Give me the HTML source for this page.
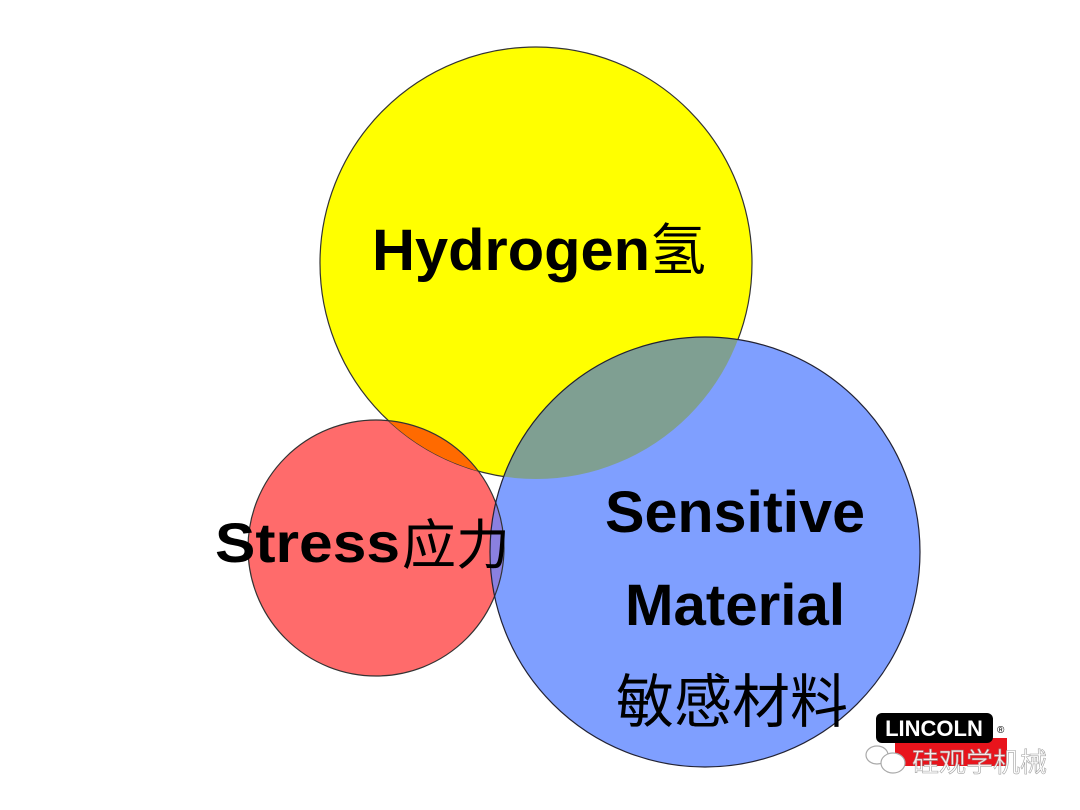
<!DOCTYPE html>
<html><head><meta charset="utf-8"><style>
html,body{margin:0;padding:0;background:#fff;width:1080px;height:810px;overflow:hidden}
svg{display:block}
</style></head><body>
<svg width="1080" height="810" viewBox="0 0 1080 810" xmlns="http://www.w3.org/2000/svg">
<defs>
<clipPath id="cy"><circle cx="536" cy="263" r="216"/></clipPath>
<clipPath id="cr"><circle cx="376" cy="548" r="128"/></clipPath>
</defs>
<circle cx="536" cy="263" r="216" fill="#ffff00"/>
<circle cx="376" cy="548" r="128" fill="#ff6b6b"/>
<circle cx="536" cy="263" r="216" fill="none" stroke="#333" stroke-width="1.2"/>
<g clip-path="url(#cy)"><circle cx="376" cy="548" r="128" fill="#ff6a00"/></g>
<circle cx="705" cy="552" r="215" fill="#7f9fff"/>
<g clip-path="url(#cy)"><circle cx="705" cy="552" r="215" fill="#7f9f92"/></g>
<g clip-path="url(#cr)"><circle cx="705" cy="552" r="215" fill="#8a80e0"/></g>
<circle cx="376" cy="548" r="128" fill="none" stroke="#333" stroke-width="1.2"/>
<circle cx="705" cy="552" r="215" fill="none" stroke="#223" stroke-width="1.2"/>
<g font-family="'Liberation Sans','Noto Sans CJK SC',sans-serif" fill="#000">
<text x="372" y="270" font-size="58" font-weight="bold" textLength="278" lengthAdjust="spacingAndGlyphs">Hydrogen</text>
<text x="650" y="270" font-size="56">氢</text>
<text x="215" y="562" font-size="56" font-weight="bold" textLength="185" lengthAdjust="spacingAndGlyphs">Stress</text>
<text x="402" y="564" font-size="54">应力</text>
<text x="605" y="532" font-size="58" font-weight="bold" textLength="260" lengthAdjust="spacingAndGlyphs">Sensitive</text>
<text x="625" y="625" font-size="58" font-weight="bold" textLength="220" lengthAdjust="spacingAndGlyphs">Material</text>
<text x="732" y="722" font-size="58" text-anchor="middle">敏感材料</text>
</g>
<rect x="895" y="738" width="112" height="28" fill="#e8141c"/>
<rect x="876" y="713" width="117" height="30" rx="6" fill="#000"/>
<text x="934" y="736" font-family="'Liberation Sans',sans-serif" font-weight="bold" font-size="22" fill="#fff" text-anchor="middle">LINCOLN</text>
<text x="997" y="733" font-family="'Liberation Sans',sans-serif" font-size="10" fill="#000">®</text>
<g fill="#fff" stroke="#aaa" stroke-width="1.2">
<ellipse cx="877" cy="755" rx="11" ry="9"/>
<ellipse cx="893" cy="763" rx="12" ry="10"/>
</g>
<text x="912" y="772" font-family="'Noto Sans CJK SC',sans-serif" font-size="27" fill="#fff" stroke="#999" stroke-width="0.6" opacity="0.9">硅观学机械</text>
</svg>
</body></html>
